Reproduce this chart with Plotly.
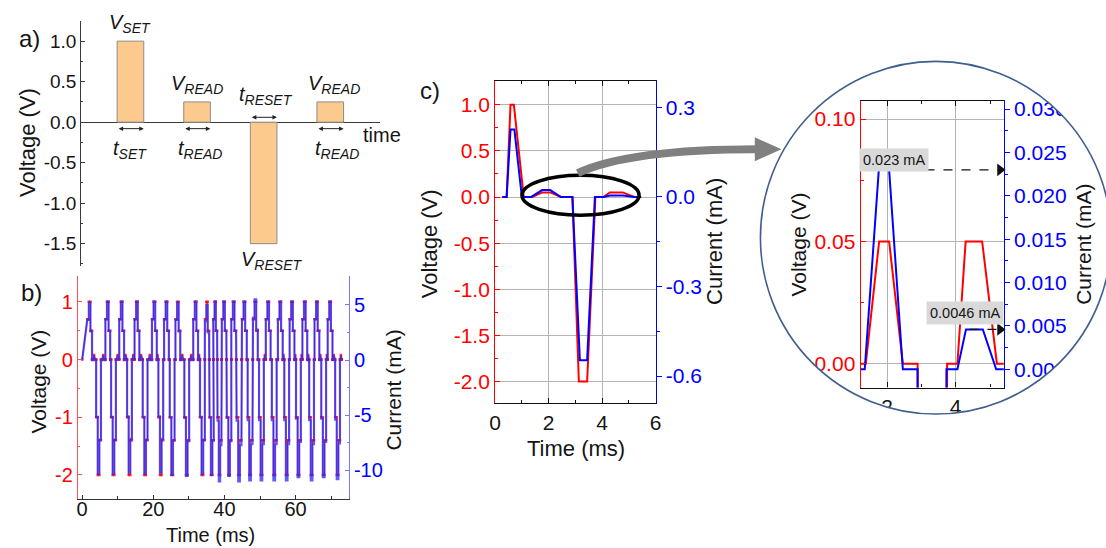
import math
import plotly.graph_objects as go

W, H = 1106, 548
FONT = "Arial, Liberation Sans, sans-serif"
INK = "#151515"
RED, BLUE = "#ff0000", "#0000ff"


def px(x):
    return x / W


def py(y):
    return 1 - y / H


def dom_x(left, right):
    return [left / W, right / W]


def dom_y(top, bottom):
    return [1 - bottom / H, 1 - top / H]


# ---------------- (a) pulse programming scheme ----------------
a_pos = [1, 2, 3, 4]
a_volt = [1.0, 0.25, -1.5, 0.25]
a_vlab = ["<i>V<sub>SET</sub></i>", "<i>V<sub>READ</sub></i>",
          "<i>V<sub>RESET</sub></i>", "<i>V<sub>READ</sub></i>"]
a_tlab = ["<i>t<sub>SET</sub></i>", "<i>t<sub>READ</sub></i>",
          "<i>t<sub>RESET</sub></i>", "<i>t<sub>READ</sub></i>"]
a_yticks = [-1.5, -1.0, -0.5, 0.0, 0.5, 1.0]
a_yticktext = ["-1.5", "-1.0", "-0.5", "0.0", "0.5", "1.0"]

# ---------------- (b) repeated SET / READ / RESET / READ cycles ----------------
b_set_t = [2.1, 7.2, 11.1, 15.4, 20.3, 23.7, 26.9, 31.9, 35.1, 37.4,
           39.9, 42.6, 45.6, 48.7, 52.3, 55.7, 59.0, 62.6, 66.0, 69.7]
b_reset_t = [4.6, 8.8, 13.3, 17.7, 22.1, 25.3, 29.4, 33.8, 36.4, 38.6,
             41.3, 44.1, 47.2, 50.4, 54.0, 57.5, 60.8, 64.5, 67.9, 71.8]
b_set_v = [1.0] * 20
b_reset_v = [-2.0] * 20
b_set_i = [5.2, 5.3, 5.3, 5.3, 5.3, 5.3, 5.2, 5.3, 5.0, 5.3,
           5.3, 5.3, 5.3, 5.5, 5.3, 5.3, 5.3, 5.3, 5.3, 5.3]
b_reset_i = [-10.3, -10.3, -10.2, -10.3, -10.2, -10.4, -10.5, -10.3, -10.4, -11.0,
             -10.5, -11.0, -10.9, -10.9, -10.9, -10.9, -10.6, -10.9, -10.6, -10.8]
# sampled plateaus of each pulse, as a fraction of the pulse amplitude
b_set_steps = [0.7, 1.0, 0.5]
b_reset_steps = [0.5, 1.0, 0.7]
b_read_v = 0.08
b_read_i = 0.4
b_end = 73.0
b_yticks = [-2, -1, 0, 1]
b_yticktext = ["-2", "-1", "0", "1"]
b_iticks = [-10, -5, 0, 5]
b_iticktext = ["-10", "-5", "0", "5"]
b_xticks = [0, 20, 40, 60]

# ---------------- (c) one cycle, with its zoomed READ part ----------------
c_t = [0.27, 0.43, 0.575, 0.70, 1.07, 1.38, 1.77, 2.06, 2.46, 2.89,
       3.13, 3.44, 3.75, 4.05, 4.29, 4.77, 5.20, 5.46]
c_v = [0, 0, 1.0, 1.0, 0, 0, 0.05, 0.05, 0, 0,
       -2.0, -2.0, 0, 0, 0.05, 0.05, 0, 0]
c_ti = [0.27, 0.43, 0.575, 0.72, 1.00, 1.35, 1.76, 2.06, 2.46, 2.89,
        3.17, 3.44, 3.73, 4.05, 4.30, 4.79, 5.18, 5.46]
c_i = [0, 0, 0.226, 0.226, 0, 0, 0.023, 0.023, 0, 0,
       -0.547, -0.547, 0, 0, 0.0046, 0.0046, 0, 0]
c_vticks = [-2.0, -1.5, -1.0, -0.5, 0.0, 0.5, 1.0]
c_vticktext = ["-2.0", "-1.5", "-1.0", "-0.5", "0.0", "0.5", "1.0"]
c_iticks = [-0.6, -0.3, 0.0, 0.3]
c_iticktext = ["-0.6", "-0.3", "0.0", "0.3"]
c_xticks = [0, 2, 4, 6]
z_vticks = [0.0, 0.05, 0.10]
z_vticktext = ["0.00", "0.05", "0.10"]
z_iticks = [0.0, 0.005, 0.010, 0.015, 0.020, 0.025, 0.030]
z_iticktext = ["0.000", "0.005", "0.010", "0.015", "0.020", "0.025", "0.030"]
z_xticks = [2, 4]
read_marks = [(0.023, 2.07, "0.023 mA"), (0.0046, 4.40, "0.0046 mA")]


def build_cycles():
    """Assemble the (b) waveform from the pulse list."""
    t, v, i = [0.0], [0.0], [0.0]

    def plateau(start, width, vv, ii):
        t.extend([start, start + width])
        v.extend([vv, vv])
        i.extend([ii, ii])

    def read(a, b):
        gap = b - a
        if gap < 0.4:
            return
        m, hw = (a + b) / 2, min(0.3, gap / 3)
        t.extend([m - hw, m, m + hw])
        v.extend([0, b_read_v, 0])
        i.extend([0, b_read_i, 0])

    def width(k):
        return min(0.45, (b_reset_t[k] - b_set_t[k]) / 3.3)

    n = len(b_set_t)
    for k in range(n):
        s, r = b_set_t[k], b_reset_t[k]
        w = width(k)
        s0 = s - 1.5 * w
        for j, f in enumerate(b_set_steps):
            plateau(s0 + j * w, w, f * b_set_v[k], f * b_set_i[k])
        plateau(s0 + 3 * w, 0.0, 0, 0)
        r0 = r - 1.5 * w
        read(s0 + 3 * w, r0)
        plateau(r0, 0.0, 0, 0)
        for j, f in enumerate(b_reset_steps):
            plateau(r0 + j * w, w, f * b_reset_v[k], f * b_reset_i[k])
        plateau(r0 + 3 * w, 0.0, 0, 0)
        nxt = b_set_t[k + 1] - 1.5 * width(k + 1) if k + 1 < n else b_end
        read(r0 + 3 * w, nxt)
        plateau(nxt, 0.0, 0, 0)
    return t, v, i


b_t, b_v, b_i = build_cycles()

fig = go.Figure()

# (a) bars
fig.add_trace(go.Bar(
    x=a_pos, y=a_volt, width=0.4, xaxis="x", yaxis="y",
    marker=dict(color="#fdca8e", line=dict(color="#8c8c8c", width=1)),
    showlegend=False, hoverinfo="skip"))

# (b) voltage and current
fig.add_trace(go.Scatter(
    x=b_t, y=b_v, xaxis="x2", yaxis="y2", mode="lines",
    line=dict(color=RED, width=1), showlegend=False))
fig.add_trace(go.Scatter(
    x=b_t, y=b_i, xaxis="x2", yaxis="y3", mode="lines",
    line=dict(color="rgba(45,45,255,0.78)", width=2.2),
    showlegend=False))
fig.add_trace(go.Scatter(
    x=b_t, y=b_v, xaxis="x2", yaxis="y2", mode="markers",
    marker=dict(symbol="square", size=2.5, color="rgba(255,0,0,0.8)"),
    showlegend=False))

# (c) voltage and current
fig.add_trace(go.Scatter(x=c_t, y=c_v, xaxis="x3", yaxis="y4", mode="lines",
                         line=dict(color=RED, width=2), showlegend=False))
fig.add_trace(go.Scatter(x=c_ti, y=c_i, xaxis="x3", yaxis="y5", mode="lines",
                         line=dict(color=BLUE, width=2), showlegend=False))

# zoomed view of the READ pulses
fig.add_trace(go.Scatter(x=c_t, y=c_v, xaxis="x4", yaxis="y6", mode="lines",
                         line=dict(color=RED, width=2), showlegend=False))
fig.add_trace(go.Scatter(x=c_ti, y=c_i, xaxis="x4", yaxis="y7", mode="lines",
                         line=dict(color=BLUE, width=2), showlegend=False))
for val, x0, _ in read_marks:
    fig.add_trace(go.Scatter(
        x=[x0, 5.30], y=[val, val], xaxis="x4", yaxis="y7", mode="lines",
        line=dict(color="#111", width=1.3, dash="dash"), showlegend=False))
    fig.add_trace(go.Scatter(
        x=[5.29], y=[val], xaxis="x4", yaxis="y7", mode="markers",
        marker=dict(symbol="triangle-right", size=11, color="#111"),
        cliponaxis=False, showlegend=False))

tick_font = lambda size, color=INK: dict(family=FONT, size=size, color=color)

layout = dict(
    width=W, height=H, margin=dict(l=0, r=0, t=0, b=0),
    paper_bgcolor="white", plot_bgcolor="rgba(0,0,0,0)",
    font=dict(family=FONT, color=INK),
    showlegend=False,
    # (a)
    xaxis=dict(domain=dom_x(76, 378.3), range=[0.26, 4.75], visible=False,
               anchor="y", fixedrange=True),
    yaxis=dict(domain=dom_y(18, 264), range=[-1.77, 1.25], anchor="x",
               showline=True, linecolor="#3a3a3a", linewidth=1,
               ticks="inside", ticklen=4, tickcolor="#3a3a3a",
               tickvals=a_yticks, ticktext=a_yticktext, tickfont=tick_font(19),
               minor=dict(tickmode="linear", tick0=0, dtick=0.25, ticks="inside",
                          ticklen=2, tickcolor="#3a3a3a"),
               showgrid=False, zeroline=True, zerolinecolor="#3a3a3a",
               zerolinewidth=1.2),
    # (b)
    xaxis2=dict(domain=dom_x(72.7, 346.7), range=[-1.2, 75], anchor="y2",
                showline=True, linecolor="#333", linewidth=1,
                ticks="inside", ticklen=4, tickcolor="#333",
                tickvals=b_xticks, tickfont=tick_font(20),
                ticklabelstandoff=-8,
                minor=dict(tickmode="linear", tick0=0, dtick=10, ticks="inside",
                           ticklen=3, tickcolor="#333"),
                showgrid=False, zeroline=False),
    yaxis2=dict(domain=dom_y(275, 498.3), range=[-2.41, 1.44], anchor="x2",
                showline=True, linecolor="#ff5050", linewidth=1,
                ticks="inside", ticklen=4, tickcolor="#ff5050",
                tickvals=b_yticks, ticktext=b_yticktext,
                tickfont=tick_font(20, RED),
                minor=dict(tickmode="linear", tick0=0, dtick=0.5, ticks="inside",
                           ticklen=2, tickcolor="#ff5050"),
                showgrid=False, zeroline=False),
    yaxis3=dict(overlaying="y2", side="right", anchor="x2",
                range=[-12.55, 7.57],
                showline=True, linecolor="#7878ff", linewidth=1,
                ticks="inside", ticklen=4, tickcolor="#7878ff",
                tickvals=b_iticks, ticktext=b_iticktext,
                tickfont=tick_font(20, BLUE),
                minor=dict(tickmode="linear", tick0=0, dtick=2.5, ticks="inside",
                           ticklen=2, tickcolor="#7878ff"),
                showgrid=False, zeroline=False),
    # (c)
    xaxis3=dict(domain=dom_x(494.5, 656.7), range=[0, 6], anchor="y4",
                showline=True, mirror="ticks", linecolor="#111", linewidth=1.2,
                ticks="inside", ticklen=5, tickcolor="#111",
                tickvals=c_xticks, tickfont=tick_font(21),
                minor=dict(tickmode="linear", tick0=0, dtick=1, ticks="inside",
                           ticklen=3, tickcolor="#111", showgrid=False),
                showgrid=True, gridcolor="#b4b4b4", gridwidth=1, zeroline=False),
    yaxis4=dict(domain=dom_y(78.3, 402.7), range=[-2.237, 1.2586], anchor="x3",
                showline=True, linecolor=RED, linewidth=1.2,
                ticks="inside", ticklen=5, tickcolor=RED,
                tickvals=c_vticks, ticktext=c_vticktext,
                tickfont=tick_font(21, RED),
                minor=dict(tickmode="linear", tick0=0, dtick=0.25, ticks="inside",
                           ticklen=3, tickcolor=RED, showgrid=False),
                showgrid=True, gridcolor="#b4b4b4", gridwidth=1, zeroline=False),
    yaxis5=dict(overlaying="y4", side="right", anchor="x3",
                range=[-0.692, 0.389],
                showline=True, linecolor=BLUE, linewidth=1.2,
                ticks="outside", ticklen=5, tickcolor=BLUE,
                tickvals=c_iticks, ticktext=c_iticktext,
                tickfont=tick_font(21, BLUE),
                minor=dict(tickmode="linear", tick0=0, dtick=0.15, ticks="outside",
                           ticklen=3, tickcolor=BLUE),
                showgrid=False, zeroline=False),
    # zoomed READ pulses
    xaxis4=dict(domain=dom_x(864, 1008.7), range=[1.23, 5.4], anchor="y6",
                showline=True, mirror="ticks", linecolor="#111", linewidth=1.2,
                ticks="inside", ticklen=5, tickcolor="#111",
                tickvals=z_xticks, tickfont=tick_font(21),
                minor=dict(tickmode="linear", tick0=0, dtick=1, ticks="inside",
                           ticklen=3, tickcolor="#111", showgrid=False),
                showgrid=True, gridcolor="#b4b4b4", gridwidth=1, zeroline=False),
    yaxis6=dict(domain=dom_y(98.3, 386.7), range=[-0.00976, 0.10748],
                anchor="x4",
                showline=True, linecolor=RED, linewidth=1.2,
                ticks="inside", ticklen=5, tickcolor=RED,
                tickvals=z_vticks, ticktext=z_vticktext,
                tickfont=tick_font(21, RED),
                minor=dict(tickmode="linear", tick0=0, dtick=0.025, ticks="inside",
                           ticklen=3, tickcolor=RED, showgrid=False),
                showgrid=True, gridcolor="#b4b4b4", gridwidth=1, zeroline=False),
    yaxis7=dict(overlaying="y6", side="right", anchor="x4",
                range=[-0.00211, 0.03096],
                showline=True, linecolor=BLUE, linewidth=1.2,
                ticks="outside", ticklen=5, tickcolor=BLUE,
                tickvals=z_iticks, ticktext=z_iticktext,
                tickfont=tick_font(21, BLUE),
                minor=dict(tickmode="linear", tick0=0, dtick=0.0025,
                           ticks="outside", ticklen=3, tickcolor=BLUE),
                showgrid=False, zeroline=False),
)
fig.update_layout(**layout)


def txt(x, y, s, size, color=INK, angle=0, xanchor="center", yanchor="middle",
        **kw):
    return dict(xref="paper", yref="paper", x=px(x), y=py(y), text=s,
                showarrow=False, textangle=angle, xanchor=xanchor,
                yanchor=yanchor, font=dict(family=FONT, size=size, color=color),
                **kw)


ann = []
# (a) labels on the pulses
v_dx = [0, 0, 0.12, 0.06]
t_dx = [0, 0.04, 0.03, 0.10]
for k, (p, val) in enumerate(zip(a_pos, a_volt)):
    up = val > 0
    ann.append(dict(xref="x", yref="y", x=p + v_dx[k], y=val, text=a_vlab[k],
                    showarrow=False, yanchor="bottom" if up else "top",
                    yshift=3 if up else -2,
                    font=dict(family=FONT, size=20, color=INK)))
    ann.append(dict(xref="x", yref="y", x=p + t_dx[k], y=-0.155 if up else 0.145,
                    text=a_tlab[k], showarrow=False,
                    yanchor="top" if up else "bottom",
                    font=dict(family=FONT, size=20, color=INK)))
    ya = -0.08 if up else 0.06
    ann.append(dict(xref="x", yref="y", axref="x", ayref="y",
                    x=p + 0.2, y=ya, ax=p - 0.2, ay=ya, text="",
                    font=dict(size=10),
                    showarrow=True, arrowhead=2, arrowside="end+start",
                    arrowsize=0.9, arrowwidth=1, arrowcolor="#222"))
ann += [
    txt(380, 133, "time", 20),
    txt(24, 36, "a)", 24),
    txt(21, 140, "Voltage (V)", 22, angle=-90),
    # (b)
    txt(26, 291, "b)", 24),
    txt(33, 381, "Voltage (V)", 21, angle=-90),
    txt(392, 389, "Current (mA)", 21, angle=-90),
    txt(207, 535, "Time (ms)", 20),
    # (c)
    txt(429, 88, "c)", 24),
    txt(428.5, 241.7, "Voltage (V)", 22, angle=-90),
    txt(716, 240, "Current (mA)", 22, angle=-90),
    txt(576.7, 448, "Time (ms)", 22),
    # zoom
    txt(801.5, 243, "Voltage (V)", 21, angle=-90),
    txt(1089, 243, "Current (mA)", 21, angle=-90),
]
for (val, x0, label), (cx_, cy_) in zip(read_marks, [(898, 158), (969.7, 311.7)]):
    ann.append(txt(cx_, cy_, label, 14.5, bgcolor="#d9d9d9", borderpad=3))
fig.update_layout(annotations=ann)

# ---- decorations: zoom window, highlight ellipse and pointer arrow ----
cx, cy, rad = 940.0, 236.0, 177.3
ring = " ".join(
    ("M" if k == 0 else "L") + f" {px(cx + rad * math.cos(2 * math.pi * k / 240)):.5f},"
    f"{py(cy + rad * math.sin(2 * math.pi * k / 240)):.5f}"
    for k in range(240)) + " Z"
mask = (f"M {px(745):.5f},{py(40):.5f} L {px(1106):.5f},{py(40):.5f} "
        f"L {px(1106):.5f},{py(440):.5f} L {px(745):.5f},{py(440):.5f} Z ") + ring

shapes = [
    dict(type="path", xref="paper", yref="paper", path=mask, fillcolor="white",
         line=dict(width=0), fillrule="evenodd", layer="above"),
    dict(type="circle", xref="paper", yref="paper",
         x0=px(cx - rad), x1=px(cx + rad), y0=py(cy + rad), y1=py(cy - rad),
         line=dict(color="#3f5e8e", width=1.6), layer="above"),
    dict(type="circle", xref="paper", yref="paper",
         x0=px(521.7), x1=px(640), y0=py(213.3), y1=py(173.3),
         line=dict(color="#000", width=3.5), layer="above"),
    dict(type="path", xref="paper", yref="paper",
         path=f"M {px(578):.5f},{py(171):.5f} Q {px(630):.5f},{py(147):.5f} "
              f"{px(760):.5f},{py(147):.5f}",
         line=dict(color="#808080", width=8), layer="above"),
    dict(type="path", xref="paper", yref="paper",
         path=f"M {px(757):.5f},{py(135):.5f} L {px(784):.5f},{py(147):.5f} "
              f"L {px(757):.5f},{py(159):.5f} Z",
         fillcolor="#808080", line=dict(width=0), layer="above"),
]
fig.update_layout(shapes=shapes)

fig.write_html("out.html")
